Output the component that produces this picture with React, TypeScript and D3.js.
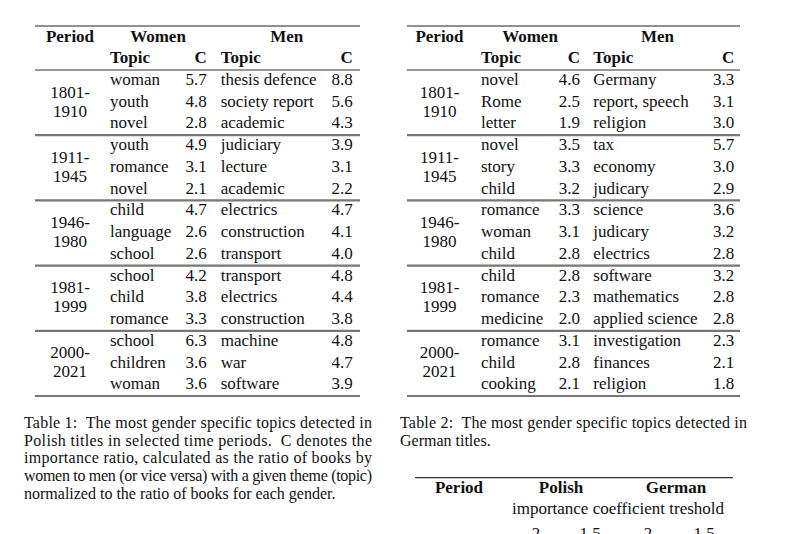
import React from "react";
import * as d3 from "d3";

const periods = [["1801-", "1910"], ["1911-", "1945"], ["1946-", "1980"], ["1981-", "1999"], ["2000-", "2021"]];

const polishWomenTopics = ["woman", "youth", "novel", "youth", "romance", "novel", "child", "language", "school", "school", "child", "romance", "school", "children", "woman"];
const polishWomenC = ["5.7", "4.8", "2.8", "4.9", "3.1", "2.1", "4.7", "2.6", "2.6", "4.2", "3.8", "3.3", "6.3", "3.6", "3.6"];
const polishMenTopics = ["thesis defence", "society report", "academic", "judiciary", "lecture", "academic", "electrics", "construction", "transport", "transport", "electrics", "construction", "machine", "war", "software"];
const polishMenC = ["8.8", "5.6", "4.3", "3.9", "3.1", "2.2", "4.7", "4.1", "4.0", "4.8", "4.4", "3.8", "4.8", "4.7", "3.9"];

const germanWomenTopics = ["novel", "Rome", "letter", "novel", "story", "child", "romance", "woman", "child", "child", "romance", "medicine", "romance", "child", "cooking"];
const germanWomenC = ["4.6", "2.5", "1.9", "3.5", "3.3", "3.2", "3.3", "3.1", "2.8", "2.8", "2.3", "2.0", "3.1", "2.8", "2.1"];
const germanMenTopics = ["Germany", "report, speech", "religion", "tax", "economy", "judicary", "science", "judicary", "electrics", "software", "mathematics", "applied science", "investigation", "finances", "religion"];
const germanMenC = ["3.3", "3.1", "3.0", "5.7", "3.0", "2.9", "3.6", "3.2", "2.8", "3.2", "2.8", "2.8", "2.3", "2.1", "1.8"];

const caption1 = [
  "Table 1:  The most gender specific topics detected in",
  "Polish titles in selected time periods.  C denotes the",
  "importance ratio, calculated as the ratio of books by",
  "women to men (or vice versa) with a given theme (topic)",
  "normalized to the ratio of books for each gender.",
];
const caption2 = ["Table 2:  The most gender specific topics detected in", "German titles."];

const table3Headers = ["Period", "Polish", "German"];
const table3Sub = "importance coefficient treshold";
const table3Thresholds = ["2", "1.5", "2", "1.5"];

const FONT = "'Liberation Serif', 'Times New Roman', serif";
const FS = 17;
const CFS = 16;

type TableProps = {
  x0: number; x1: number;
  periodX: number; wTopicX: number; wCX: number; mTopicX: number; mCX: number;
  womenHX: number; menHX: number;
  wTopics: string[]; wC: string[]; mTopics: string[]; mC: string[];
};

function Table(p: TableProps) {
  const rowY = d3.scaleLinear().domain([0, 15]).range([70, 396]);
  const blocks = d3.range(periods.length);
  const rows = d3.range(p.wTopics.length);
  return (
    <g fontFamily={FONT} fontSize={FS} fill="#111">
      <line x1={p.x0} x2={p.x1} y1={26} y2={26} stroke="#222" strokeWidth={1.2} />
      <text x={p.periodX} y={42} textAnchor="middle" fontWeight="bold">Period</text>
      <text x={p.womenHX} y={42} textAnchor="middle" fontWeight="bold">Women</text>
      <text x={p.menHX} y={42} textAnchor="middle" fontWeight="bold">Men</text>
      <text x={p.wTopicX} y={63} fontWeight="bold">Topic</text>
      <text x={p.wCX} y={63} textAnchor="end" fontWeight="bold">C</text>
      <text x={p.mTopicX} y={63} fontWeight="bold">Topic</text>
      <text x={p.mCX} y={63} textAnchor="end" fontWeight="bold">C</text>
      <line x1={p.x0} x2={p.x1} y1={rowY(0)} y2={rowY(0)} stroke="#333" strokeWidth={1.2} />
      {blocks.map((b) => (
        <g key={b}>
          <line x1={p.x0} x2={p.x1} y1={rowY(b * 3 + 3)} y2={rowY(b * 3 + 3)} stroke="#777" strokeWidth={2.2} />
          <text x={p.periodX} y={(rowY(b * 3) + rowY(b * 3 + 3)) / 2 - 5} textAnchor="middle">{periods[b][0]}</text>
          <text x={p.periodX} y={(rowY(b * 3) + rowY(b * 3 + 3)) / 2 + 14} textAnchor="middle">{periods[b][1]}</text>
        </g>
      ))}
      {rows.map((i) => {
        const y = rowY(i) + 15;
        return (
          <g key={i}>
            <text x={p.wTopicX} y={y}>{p.wTopics[i]}</text>
            <text x={p.wCX} y={y} textAnchor="end">{p.wC[i]}</text>
            <text x={p.mTopicX} y={y}>{p.mTopics[i]}</text>
            <text x={p.mCX} y={y} textAnchor="end">{p.mC[i]}</text>
          </g>
        );
      })}
    </g>
  );
}

function Caption({ x, lines, width }: { x: number; lines: string[]; width: number }) {
  const y = d3.scaleLinear().domain([0, 1]).range([428, 445.7]);
  return (
    <g fontFamily={FONT} fontSize={CFS} fill="#111">
      {lines.map((l, i) => (
        <text key={i} x={x} y={y(i)} xmlSpace="preserve"
          {...(i < lines.length - 1 ? { textLength: width, lengthAdjust: "spacing" } : {})}>
          {l}
        </text>
      ))}
    </g>
  );
}

export default function App() {
  const thX = d3.scaleOrdinal<string, number>().domain(table3Thresholds.map((_, i) => String(i))).range([536, 590, 648, 704]);
  return (
    <svg width={800} height={534} style={{ position: "absolute", left: 0, top: 0, background: "#fff" }}>
      <rect width={800} height={534} fill="#fff" />
      <Table x0={35} x1={360} periodX={70} wTopicX={110} wCX={206.7} mTopicX={220.7} mCX={352.7}
        womenHX={158} menHX={286.7}
        wTopics={polishWomenTopics} wC={polishWomenC} mTopics={polishMenTopics} mC={polishMenC} />
      <Table x0={407} x1={740} periodX={439.5} wTopicX={481} wCX={580} mTopicX={593.3} mCX={734.3}
        womenHX={530} menHX={657.5}
        wTopics={germanWomenTopics} wC={germanWomenC} mTopics={germanMenTopics} mC={germanMenC} />
      <Caption x={24} lines={caption1} width={348} />
      <Caption x={400} lines={caption2} width={347} />
      <g fontFamily={FONT} fontSize={FS} fill="#111">
        <line x1={415} x2={733} y1={477.7} y2={477.7} stroke="#333" strokeWidth={1.2} />
        <text x={459} y={493} textAnchor="middle" fontWeight="bold">{table3Headers[0]}</text>
        <text x={561} y={493} textAnchor="middle" fontWeight="bold">{table3Headers[1]}</text>
        <text x={676} y={493} textAnchor="middle" fontWeight="bold">{table3Headers[2]}</text>
        <text x={618} y={514} textAnchor="middle">{table3Sub}</text>
        {table3Thresholds.map((t, i) => (
          <text key={i} x={thX(String(i))} y={539} textAnchor="middle">{t}</text>
        ))}
      </g>
    </svg>
  );
}
